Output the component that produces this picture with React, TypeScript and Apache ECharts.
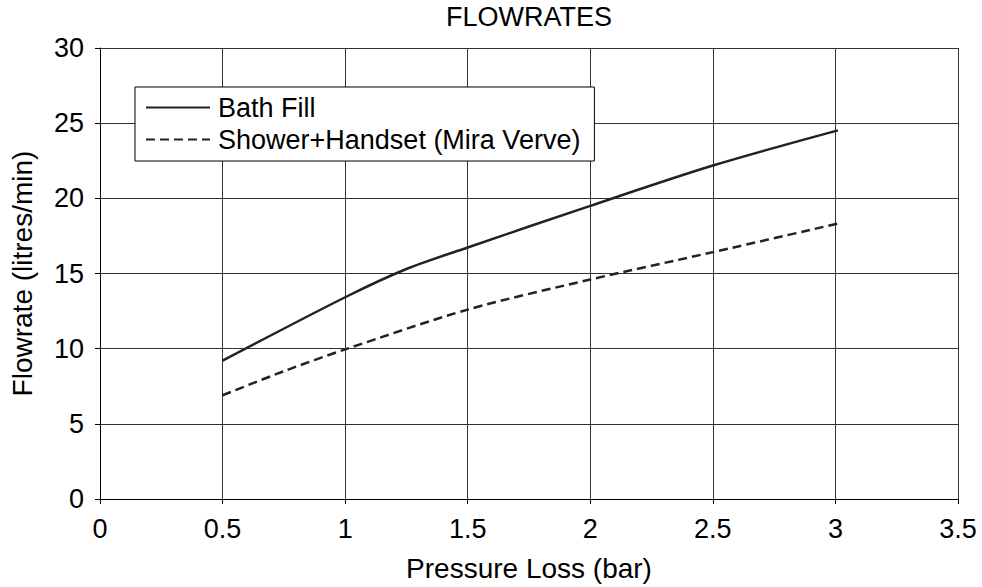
import React, { useEffect, useRef } from "react";
import * as echarts from "echarts";

const bathX = [0.5, 1, 1.25, 1.5, 2, 2.5, 3.01];
const bathY = [9.2, 13.42, 15.3, 16.73, 19.5, 22.18, 24.52];
const showerX = [0.5, 0.75, 1, 1.5, 2, 2.5, 3.01];
const showerY = [6.9, 8.5, 9.95, 12.6, 14.6, 16.42, 18.32];
const seriesNames = ["Bath Fill", "Shower+Handset (Mira Verve)"];
const titleText = "FLOWRATES";
const xName = "Pressure Loss (bar)";
const yName = "Flowrate (litres/min)";

const FONT = "Liberation Sans, Arial, sans-serif";

export default function App() {
  const ref = useRef<HTMLDivElement>(null);
  useEffect(() => {
    if (!ref.current) return;
    const chart = echarts.init(ref.current, null, { renderer: "svg" });
    const pairs = (xs: number[], ys: number[]) => xs.map((x, i) => [x, ys[i]]);
    chart.setOption({
      animation: false,
      backgroundColor: "#fff",
      textStyle: { fontFamily: FONT },
      title: {
        text: titleText,
        left: 529,
        textAlign: "center",
        top: 3,
        padding: 0,
        textStyle: { fontFamily: FONT, fontSize: 27, fontWeight: "normal", color: "#000" },
      },
      legend: {
        orient: "vertical",
        left: 135,
        top: 87,
        padding: [7, 14, 8, 10],
        itemGap: 5,
        itemWidth: 64,
        itemHeight: 20,
        borderColor: "#000",
        borderWidth: 1,
        borderRadius: 0,
        backgroundColor: "#fff",
        itemStyle: { opacity: 0 },
        textStyle: { fontFamily: FONT, fontSize: 27, lineHeight: 27, color: "#000", padding: [0, 0, 0, 3] },
        data: seriesNames,
      },
      grid: { left: 99.5, right: 24, top: 48, bottom: 86, containLabel: false },
      xAxis: {
        type: "value",
        min: 0,
        max: 3.5,
        interval: 0.5,
        name: xName,
        nameLocation: "middle",
        nameGap: 55,
        nameTextStyle: { fontFamily: FONT, fontSize: 28, color: "#000" },
        axisLine: { show: true, lineStyle: { color: "#000", width: 1 } },
        axisTick: { show: true, length: 5, lineStyle: { color: "#000" } },
        axisLabel: { fontFamily: FONT, fontSize: 27, color: "#000", margin: 16 },
        splitLine: { show: true, lineStyle: { color: "#333", width: 1 } },
      },
      yAxis: {
        type: "value",
        min: 0,
        max: 30,
        interval: 5,
        name: yName,
        nameLocation: "middle",
        nameGap: 64,
        nameTextStyle: { fontFamily: FONT, fontSize: 28, color: "#000" },
        axisLine: { show: true, lineStyle: { color: "#000", width: 1 } },
        axisTick: { show: true, length: 5, lineStyle: { color: "#000" } },
        axisLabel: { fontFamily: FONT, fontSize: 27, color: "#000", margin: 16 },
        splitLine: { show: true, lineStyle: { color: "#333", width: 1 } },
      },
      series: [
        {
          name: seriesNames[0],
          type: "line",
          smooth: 0.3,
          symbol: "none",
          data: pairs(bathX, bathY),
          lineStyle: { color: "#222", width: 2.5, type: "solid" },
          itemStyle: { color: "#222" },
        },
        {
          name: seriesNames[1],
          type: "line",
          smooth: 0.3,
          symbol: "none",
          data: pairs(showerX, showerY),
          lineStyle: { color: "#222", width: 2.5, type: [9, 5] },
          itemStyle: { color: "#222" },
        },
      ],
    });
    return () => chart.dispose();
  }, []);
  return (
    <div
      ref={ref}
      style={{ position: "absolute", left: 0, top: 0, width: 982, height: 587, background: "#fff" }}
    />
  );
}
